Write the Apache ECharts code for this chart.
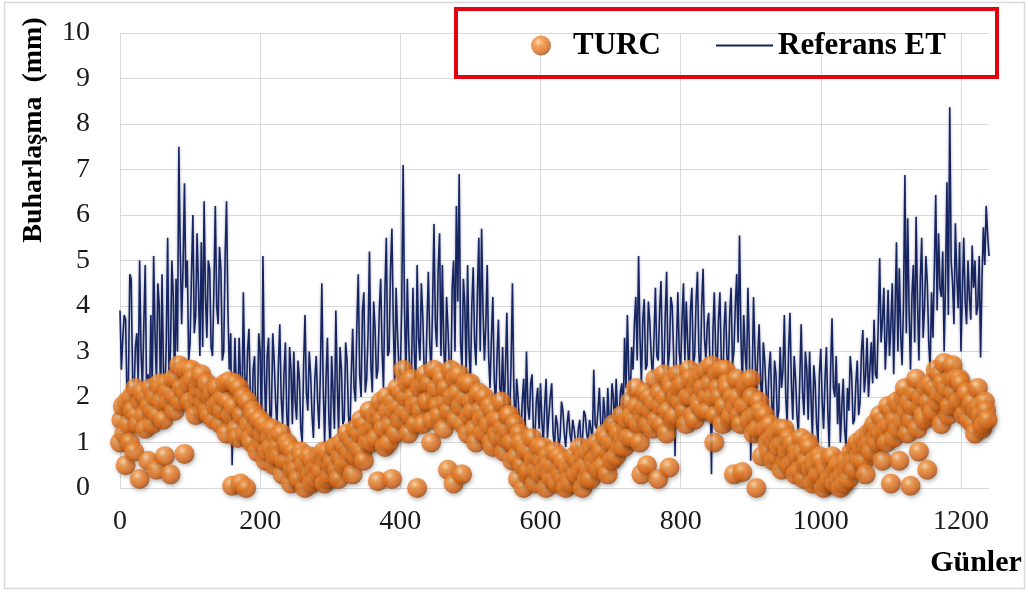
<!DOCTYPE html>
<html>
<head>
<meta charset="utf-8">
<script src="https://cdn.jsdelivr.net/npm/echarts@6/dist/echarts.min.js"></script>
<style>
  html, body { margin: 0; padding: 0; background: #ffffff; }
  #chart { width: 1028px; height: 592px; }
</style>
</head>
<body>
<div id="chart"></div>
<script>
// Days between stored values inside each array; the "b" arrays are shifted by half a step
const dayStep = 4;

// Reference evapotranspiration (mm), days 0, 4, 8, ...
const referansET_a = [
  3.9, 3.3, 3.7, 2.3, 4.6, 2.1, 3.4, 5.0, 2.2, 4.9,
  2.5, 3.8, 5.1, 2.3, 4.0, 4.7, 2.0, 5.5, 3.0, 4.2,
  4.6, 7.5, 3.6, 6.7, 5.0, 3.2, 6.0, 3.8, 4.4, 5.4,
  6.3, 3.3, 4.8, 2.9, 6.2, 3.6, 4.8, 3.0, 6.3, 2.6,
  0.5, 3.3, 1.6, 2.4, 4.3, 1.8, 3.5, 1.2, 2.9, 1.5,
  3.0, 5.1, 1.4, 3.3, 1.6, 2.8, 1.3, 3.6, 1.4, 3.2,
  1.1, 2.6, 3.0, 1.5, 2.4, 1.0, 3.8, 1.7, 2.5, 1.1,
  2.9, 1.3, 4.5, 1.0, 3.3, 0.8, 2.1, 3.9, 1.2, 2.6,
  1.5, 2.8, 1.1, 3.5, 1.9, 4.7, 2.0, 4.3, 2.4, 5.2,
  2.1, 3.5, 2.6, 4.6, 2.2, 5.5, 3.0, 5.7, 2.3, 3.4,
  2.5, 7.1, 2.4, 3.2, 2.6, 3.0, 4.9, 2.8, 3.8, 2.2,
  4.75, 2.5, 5.8, 3.1, 5.6, 4.9, 2.4, 3.5, 2.1, 5.0,
  6.2, 6.9, 2.6, 4.0, 4.9, 2.3, 4.85, 2.7, 5.5, 5.7,
  2.8, 4.9, 2.2, 4.2, 1.8, 3.7, 2.0, 1.6, 3.85, 1.5,
  4.5, 1.3, 2.0, 1.2, 2.4, 3.0, 1.5, 2.5, 1.1, 2.2,
  2.3, 1.0, 2.4, 1.6, 2.3, 0.9, 1.4, 1.1, 1.7, 0.9,
  1.7, 1.0, 1.3, 0.8, 1.5, 1.1, 1.6, 1.0, 1.3, 2.6,
  1.3, 2.2, 1.1, 1.6, 2.2, 1.2, 2.0, 2.4, 1.4, 2.3,
  3.3, 3.8, 1.9, 2.6, 4.2, 5.1, 2.3, 4.15, 2.7, 3.65,
  2.4, 4.4, 2.8, 4.55, 2.5, 4.75, 3.0, 4.0, 0.7, 4.3,
  2.6, 4.5, 4.1, 2.4, 4.4, 2.9, 4.75, 2.3, 4.82, 2.8,
  3.85, 0.3, 4.3, 2.5, 4.3, 2.0, 4.1, 2.6, 4.4, 3.0,
  4.7, 5.55, 2.2, 3.0, 4.4, 0.6, 4.2, 2.0, 3.6, 1.8,
  2.8, 1.6, 3.0, 1.3, 2.5, 1.7, 2.2, 3.8, 1.4, 3.85,
  1.5, 2.4, 1.2, 3.6, 1.6, 2.6, 3.0, 1.1, 2.3, 1.0,
  3.06, 1.3, 3.1, 0.9, 3.73, 2.0, 1.4, 1.0, 2.4, 0.9,
  1.7, 2.5, 1.5, 2.8, 1.9, 3.47, 2.5, 2.0, 3.2, 3.7,
  2.4, 5.05, 3.7, 2.6, 4.35, 3.6, 2.5, 5.4, 4.83, 2.7,
  6.88, 5.93, 2.6, 4.9, 5.96, 2.8, 5.5, 3.95, 4.5, 2.6,
  3.3, 6.44, 5.6, 4.2, 3.0, 6.72, 8.37, 4.5, 5.82, 3.95,
  3.0, 5.5, 3.6, 4.2, 5.33, 5.0, 4.0, 2.87, 5.73, 6.2,
  5.1
];

// Reference evapotranspiration (mm), days 2, 6, 10, ...
const referansET_b = [
  2.6, 3.8, 2.0, 4.7, 2.4, 3.1, 2.3, 3.0, 3.6, 2.0,
  1.6, 2.2, 3.4, 4.5, 1.8, 2.6, 3.2, 2.4, 5.0, 2.1,
  3.0, 5.2, 4.9, 4.4, 2.8, 4.7, 3.4, 5.6, 2.9, 3.1,
  4.2, 5.0, 3.1, 4.4, 4.0, 5.3, 2.8, 5.1, 3.9, 3.4,
  1.9, 2.1, 3.3, 1.4, 2.5, 3.0, 2.0, 2.6, 1.3, 3.4,
  1.2, 2.6, 2.9, 1.5, 3.4, 1.9, 2.7, 2.0, 2.5, 1.6,
  3.1, 1.4, 1.9, 2.8, 1.3, 2.7, 2.1, 3.0, 1.6, 2.4,
  1.9, 2.6, 2.2, 2.4, 1.6, 2.9, 1.3, 2.3, 3.1, 1.4,
  3.2, 1.6, 2.5, 2.2, 3.6, 2.5, 3.9, 2.1, 3.4, 2.7,
  4.1, 2.4, 3.9, 3.0, 4.3, 2.9, 4.8, 3.6, 4.4, 2.6,
  4.0, 3.9, 4.6, 2.3, 4.4, 2.2, 3.3, 4.5, 2.6, 3.6,
  3.2, 4.0, 3.6, 4.8, 2.9, 3.1, 4.2, 2.6, 4.4, 3.0,
  4.1, 3.2, 4.6, 2.5, 3.1, 4.0, 3.2, 4.3, 3.0, 3.9,
  3.6, 2.9, 3.3, 2.4, 2.9, 2.2, 3.1, 2.6, 2.0, 2.7,
  2.2, 2.4, 1.4, 1.9, 1.3, 1.8, 2.3, 1.2, 1.9, 1.3,
  1.5, 1.8, 1.1, 2.0, 1.2, 1.6, 0.9, 1.9, 1.2, 1.4,
  1.2, 1.5, 1.0, 1.3, 0.9, 1.7, 1.2, 1.5, 1.0, 1.4,
  1.7, 1.4, 2.0, 1.0, 1.5, 2.3, 1.3, 1.6, 2.1, 1.5,
  2.2, 2.5, 3.1, 3.6, 2.8, 3.3, 3.7, 2.6, 4.1, 2.9,
  3.3, 2.9, 3.9, 2.7, 3.8, 2.6, 4.2, 2.9, 3.1, 3.0,
  3.7, 2.8, 3.2, 3.9, 2.7, 4.1, 3.0, 4.0, 3.3, 3.6,
  2.6, 3.4, 3.0, 3.7, 2.8, 3.5, 2.9, 3.8, 2.7, 4.0,
  3.2, 3.4, 3.8, 2.5, 3.1, 2.3, 3.0, 2.9, 2.4, 3.2,
  2.1, 2.6, 1.9, 2.8, 1.5, 3.1, 2.6, 2.0, 3.0, 2.3,
  2.9, 1.6, 2.4, 2.1, 3.0, 1.5, 2.0, 2.7, 1.4, 2.5,
  1.9, 2.4, 1.7, 2.6, 2.2, 2.9, 2.3, 1.8, 1.3, 2.2,
  2.9, 1.4, 2.3, 1.6, 3.0, 2.1, 3.3, 2.6, 2.3, 2.5,
  3.6, 3.2, 4.4, 3.3, 2.9, 4.5, 3.9, 3.0, 3.4, 4.1,
  3.4, 3.9, 4.2, 3.2, 4.1, 4.6, 3.3, 5.1, 3.2, 4.3,
  4.8, 3.9, 4.4, 5.2, 4.6, 3.8, 5.0, 3.6, 4.7, 5.4,
  4.3, 4.1, 5.0, 3.7, 4.4, 3.8, 5.1, 4.6, 4.9, 5.6
];

// TURC estimates (mm), days 0, 4, 8, ...
const turc_a = [
  1.0, 1.8, 0.5, 1.4, 2.0, 0.8, 1.6, 0.2, 2.1, 1.3,
  0.6, 2.2, 1.7, 0.4, 2.3, 1.9, 0.7, 2.1, 0.3, 2.4,
  2.0, 2.7, 2.2, 0.75, 2.6, 1.9, 2.4, 1.6, 2.2, 2.5,
  1.9, 2.3, 1.6, 2.1, 1.8, 2.2, 1.4, 2.0, 1.2, 2.35,
  0.05, 2.3, 1.1, 0.1, 2.0, 0.0, 1.4, 1.0, 1.6, 0.8,
  1.5, 1.2, 0.6, 1.3, 0.9, 0.5, 1.1, 0.7, 0.3, 0.9,
  0.6, 0.1, 0.8, 0.4, 0.2, 0.7, 0.0, 0.5, 0.3, 0.6,
  0.2, 0.7, 0.4, 0.1, 0.8, 0.3, 0.6, 0.9, 0.2, 1.0,
  0.5, 1.2, 0.8, 0.3, 1.3, 0.9, 1.5, 0.6, 1.2, 1.7,
  1.0, 1.6, 0.15, 1.9, 1.3, 2.0, 1.0, 0.2, 1.7, 2.2,
  1.5, 2.6, 2.0, 1.2, 2.4, 1.8, 0.0, 2.2, 1.4, 2.5,
  1.9, 1.0, 2.6, 2.2, 1.6, 2.4, 1.9, 0.4, 2.6, 0.1,
  1.5, 2.5, 0.3, 2.0, 1.2, 2.3, 1.7, 1.0, 2.1, 1.5,
  2.0, 1.2, 1.8, 0.9, 1.5, 1.1, 1.9, 0.8, 1.3, 1.6,
  0.6, 1.4, 0.2, 1.0, 0.0, 0.8, 0.4, 1.1, 0.1, 0.7,
  0.3, 0.9, 0.0, 0.5, 0.2, 0.8, 0.1, 0.4, 0.6, 0.0,
  0.4, 0.1, 0.7, 0.3, 0.9, 0.0, 0.5, 0.8, 0.2, 0.6,
  1.0, 0.4, 0.8, 1.2, 0.3, 1.0, 1.4, 0.7, 1.2, 1.6,
  0.9, 1.5, 1.9, 1.1, 2.2, 1.4, 0.3, 1.8, 0.5, 2.0,
  1.3, 2.4, 0.2, 1.8, 2.5, 1.2, 0.45, 2.2, 1.6, 2.5,
  1.9, 2.3, 1.4, 2.6, 2.0, 1.5, 2.4, 1.8, 2.2, 2.6,
  1.7, 2.7, 1.0, 2.5, 2.0, 1.4, 2.6, 2.2, 1.6, 0.3,
  2.4, 1.6, 0.35, 2.2, 1.8, 2.4, 1.2, 0.0, 1.9, 0.7,
  1.6, 1.0, 1.4, 0.6, 1.2, 0.9, 0.4, 1.3, 0.8, 0.5,
  1.0, 0.3, 0.7, 1.1, 0.2, 0.6, 0.9, 0.1, 0.5, 0.3,
  0.6, 0.0, 0.4, 0.2, 0.7, 0.1, 0.5, 0.0, 0.3, 0.6,
  0.2, 0.8, 0.4, 1.0, 0.6, 1.1, 0.3, 1.2, 0.8, 1.4,
  1.0, 1.6, 0.6, 1.3, 1.8, 0.1, 1.1, 1.9, 0.6, 1.5,
  2.2, 1.2, 0.05, 1.8, 2.4, 0.8, 2.0, 1.5, 0.4, 2.3,
  1.7, 2.6, 2.1, 1.4, 2.75, 2.2, 1.8, 2.7, 2.4, 1.9,
  2.3, 1.6, 2.1, 1.5, 1.9, 1.2, 2.2, 1.6, 1.4, 1.7
];

// TURC estimates (mm), days 2, 6, 10, ...
const turc_b = [
  1.5, 1.2, 1.9, 1.0, 1.7, 2.2, 1.4, 1.9, 1.6, 2.0,
  1.8, 1.4, 2.0, 1.6, 2.2, 1.5, 2.3, 1.9, 2.1, 1.7,
  2.4, 1.9, 2.6, 2.1, 2.3, 2.6, 1.8, 2.0, 2.4, 1.7,
  2.1, 1.7, 2.0, 1.5, 2.2, 1.9, 1.7, 2.3, 1.9, 1.6,
  1.8, 1.3, 2.2, 1.6, 1.2, 1.9, 1.1, 1.7, 1.3, 1.5,
  1.0, 1.4, 0.8, 1.1, 1.3, 0.7, 0.9, 1.2, 0.6, 1.0,
  0.9, 0.4, 0.6, 0.2, 0.8, 0.5, 0.3, 0.7, 0.1, 0.4,
  0.5, 0.3, 0.8, 0.6, 0.2, 0.5, 0.9, 0.4, 0.7, 0.6,
  0.9, 0.6, 1.1, 1.0, 0.7, 1.2, 0.8, 1.4, 1.0, 1.3,
  1.4, 1.1, 1.7, 1.5, 0.9, 1.7, 1.4, 1.9, 1.2, 1.8,
  2.1, 1.7, 2.3, 1.6, 2.0, 1.4, 1.9, 1.7, 2.3, 1.9,
  2.3, 1.5, 2.0, 1.8, 2.5, 1.3, 2.2, 1.7, 2.0, 2.4,
  2.1, 1.8, 1.4, 2.3, 1.6, 1.9, 1.3, 2.0, 1.7, 1.2,
  1.6, 1.4, 1.0, 1.7, 1.2, 1.5, 1.3, 1.1, 1.6, 1.0,
  1.0, 0.7, 1.2, 0.5, 0.9, 0.3, 0.8, 0.6, 0.4, 0.9,
  0.6, 0.4, 0.7, 0.3, 0.5, 0.2, 0.7, 0.3, 0.2, 0.5,
  0.2, 0.5, 0.3, 0.6, 0.4, 0.7, 0.2, 0.4, 0.9, 0.5,
  0.7, 0.9, 0.5, 1.1, 0.8, 0.6, 1.0, 1.3, 0.9, 1.1,
  1.3, 1.1, 1.6, 1.5, 1.8, 1.0, 1.6, 2.1, 1.4, 1.7,
  1.9, 1.5, 2.1, 1.4, 2.0, 1.7, 2.3, 1.5, 2.0, 2.2,
  2.2, 1.7, 2.0, 2.4, 1.6, 2.2, 1.9, 2.5, 1.7, 2.0,
  2.3, 2.0, 1.6, 2.2, 2.6, 1.8, 2.3, 1.5, 2.0, 1.8,
  2.0, 1.4, 1.8, 2.3, 1.5, 2.0, 1.6, 1.3, 1.7, 1.3,
  1.3, 0.8, 1.1, 1.0, 0.7, 1.3, 1.0, 0.6, 1.1, 0.9,
  0.6, 0.8, 0.4, 0.8, 0.5, 1.0, 0.4, 0.6, 0.2, 0.7,
  0.3, 0.5, 0.1, 0.6, 0.3, 0.4, 0.2, 0.5, 0.1, 0.4,
  0.5, 0.6, 0.9, 0.7, 0.9, 0.6, 0.9, 1.0, 1.3, 1.1,
  1.3, 1.2, 1.5, 1.0, 1.4, 1.7, 1.5, 1.3, 1.8, 2.0,
  1.7, 1.9, 1.5, 2.1, 1.3, 1.8, 1.6, 2.2, 1.9, 1.6,
  2.2, 1.9, 2.5, 2.3, 2.0, 1.6, 2.4, 2.1, 1.8, 2.4,
  1.9, 2.0, 1.6, 1.8, 1.4, 1.7, 1.8, 1.3, 1.9, 1.5
];

// Axis ranges, titles and series names
const xMax = 1240;
const xInterval = 200;
const yMax = 10;
const yTitle = 'Buharlaşma  (mm)';
const xTitle = 'Günler';
const turcName = 'TURC';
const etName = 'Referans ET';

const serif = '"Liberation Serif", "Times New Roman", serif';

// Merge the two offset samplings into [day, value] pairs ordered by day
function mergeByDay(a, b) {
  const pts = [];
  a.forEach((v, i) => pts.push([i * dayStep, v]));
  b.forEach((v, i) => pts.push([i * dayStep + dayStep / 2, v]));
  return pts.sort((p, q) => p[0] - q[0]);
}

const etData = mergeByDay(referansET_a, referansET_b);
const turcData = mergeByDay(turc_a, turc_b);

const ballColor = {
  type: 'radial', x: 0.38, y: 0.32, r: 0.7,
  colorStops: [
    { offset: 0, color: '#ffd6a8' },
    { offset: 0.3, color: '#f3913a' },
    { offset: 0.75, color: '#d9671a' },
    { offset: 1, color: '#9c4a10' }
  ]
};
const lineColor = '#16245f';

const legendText = { fontFamily: serif, fontWeight: 'bold', fontSize: 31, color: '#000' };

const chart = echarts.init(document.getElementById('chart'), null, { renderer: 'canvas' });

chart.setOption({
  backgroundColor: '#ffffff',
  animation: false,
  grid: { left: 120, right: 39, top: 33, bottom: 104 },
  legend: [
    {
      left: 526, top: 25, itemWidth: 20, itemHeight: 20,
      textStyle: Object.assign({ padding: [0, 0, 0, 17] }, legendText),
      data: [{ name: turcName, icon: 'circle' }]
    },
    {
      left: 711, top: 25, itemWidth: 57, itemHeight: 2,
      textStyle: legendText,
      data: [{ name: etName, icon: 'rect' }]
    }
  ],
  xAxis: {
    type: 'value', min: 0, max: xMax, interval: xInterval,
    axisLine: { show: false }, axisTick: { show: false },
    axisLabel: {
      showMaxLabel: false, margin: 20, fontFamily: serif, fontSize: 28, color: '#1a1a1a',
      formatter: (v) => String(v)
    },
    splitLine: { show: true, showMaxLine: false, lineStyle: { color: '#d9d9d9', width: 1 } }
  },
  yAxis: {
    type: 'value', min: 0, max: yMax, interval: 1,
    axisLine: { show: false }, axisTick: { show: false },
    axisLabel: { margin: 30, fontFamily: serif, fontSize: 28, color: '#1a1a1a' },
    splitLine: { show: true, lineStyle: { color: '#d9d9d9', width: 1 } }
  },
  graphic: [
    { type: 'rect', z: -10, silent: true,
      shape: { x: 4.5, y: 2.5, width: 1020, height: 586 },
      style: { fill: 'none', stroke: '#d9d9d9', lineWidth: 1.5 } },
    { type: 'rect', z: 100, silent: true,
      shape: { x: 456, y: 9, width: 541, height: 68 },
      style: { fill: 'none', stroke: '#e3000f', lineWidth: 4 } },
    { type: 'text', z: 100, silent: true, x: 34, y: 130, rotation: Math.PI / 2,
      style: { text: yTitle, fontFamily: serif, fontWeight: 'bold', fontSize: 28, fill: '#000',
               align: 'center', verticalAlign: 'middle' } },
    { type: 'text', z: 100, silent: true, x: 976, y: 563,
      style: { text: xTitle, fontFamily: serif, fontWeight: 'bold', fontSize: 30, fill: '#000',
               align: 'center', verticalAlign: 'middle' } }
  ],
  series: [
    {
      name: etName, type: 'line', data: etData, z: 2,
      symbol: 'none', showSymbol: false,
      lineStyle: { color: lineColor, width: 1.6, shadowBlur: 3, shadowColor: 'rgba(20,30,90,0.35)' },
      itemStyle: { color: lineColor }
    },
    {
      name: turcName, type: 'scatter', data: turcData, z: 3,
      symbol: 'circle', symbolSize: 20,
      itemStyle: { color: ballColor, shadowBlur: 4, shadowColor: 'rgba(0,0,0,0.35)', shadowOffsetX: 1, shadowOffsetY: 2 }
    }
  ]
});
</script>
</body>
</html>
